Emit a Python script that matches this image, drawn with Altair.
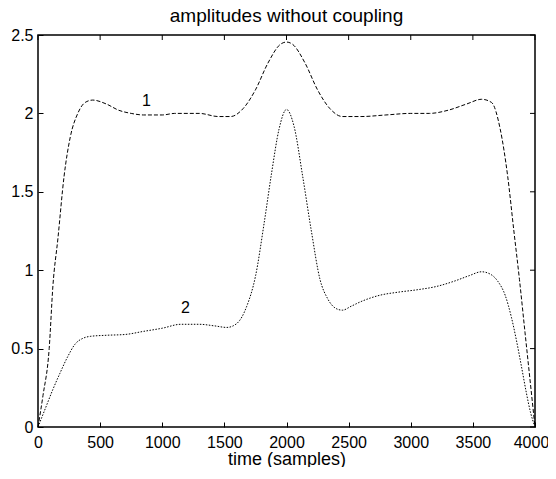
import altair as alt
import pandas as pd

# curve 1 (dashed)
t1 = [0, 40, 90, 120, 160, 210, 260, 320, 380, 440, 550, 650, 750, 850, 1000, 1100, 1300,
      1450, 1550, 1650, 1750, 1850, 1950, 2000, 2050, 2150, 2250, 2350, 2450, 2600, 2800,
      3000, 3150, 3300, 3450, 3570, 3650, 3720, 3780, 3830, 3875, 3920, 3960, 4000]
a1 = [0, 0.2, 0.5, 0.9, 1.2, 1.6, 1.85, 2.0, 2.07, 2.085, 2.06, 2.02, 2.0, 1.99, 1.99, 2.0, 2.0,
      1.98, 1.98, 2.03, 2.15, 2.32, 2.44, 2.455, 2.44, 2.32, 2.15, 2.03, 1.98, 1.98, 1.99,
      2.0, 2.0, 2.02, 2.06, 2.09, 2.07, 1.9, 1.6, 1.25, 0.94, 0.6, 0.3, 0]

# curve 2 (dotted)
t2 = [0, 60, 120, 175, 240, 300, 360, 420, 550, 700, 850, 1000, 1150, 1300, 1420, 1520, 1600,
      1680, 1750, 1820, 1880, 1940, 2000, 2060, 2130, 2200, 2270, 2330, 2400, 2450, 2520, 2600,
      2750, 2900, 3050, 3200, 3350, 3470, 3570, 3640, 3700, 3760, 3810, 3850, 3890, 3930, 3965, 4000]
a2 = [0, 0.12, 0.24, 0.34, 0.45, 0.53, 0.565, 0.578, 0.585, 0.59, 0.61, 0.63, 0.655, 0.655, 0.645, 0.635, 0.66,
      0.77, 0.96, 1.3, 1.62, 1.9, 2.025, 1.92, 1.6, 1.25, 0.94, 0.82, 0.755, 0.745, 0.77, 0.80,
      0.84, 0.86, 0.875, 0.895, 0.93, 0.965, 0.99, 0.975, 0.93, 0.84, 0.70, 0.555, 0.39, 0.22, 0.09, 0]

label_t = [873, 1187]
label_a = [2.08, 0.76]
label_text = ["1", "2"]

xticks = [0, 500, 1000, 1500, 2000, 2500, 3000, 3500, 4000]
yticks = [0, 0.5, 1, 1.5, 2, 2.5]

W, H = 497, 392
FONT = "Liberation Sans"

xscale = alt.Scale(domain=[0, 4000], nice=False, zero=False)
yscale = alt.Scale(domain=[0, 2.5], nice=False, zero=False)

xaxis = alt.Axis(values=xticks, offset=-5, tickSize=5, domain=False, grid=False,
                 title="time (samples)", labelFont=FONT, labelFontSize=16, titleFont=FONT,
                 titleFontSize=18, titleFontWeight="normal", labelColor="black", titleColor="black",
                 tickColor="black", labelPadding=7, titleBaseline="alphabetic", titleY=42,
                 format="d", labelFlush=False,
                 labelOffset={"condition": {"test": "datum.value == 4000", "value": -4}, "value": 0})
yaxis = alt.Axis(values=yticks, offset=-5, tickSize=5, domain=False, grid=False, title="",
                 labelFont=FONT, labelFontSize=16, labelColor="black", tickColor="black",
                 labelPadding=5, labelFlush=False, format="~g")

d1 = pd.DataFrame({"t": t1, "a": a1})
d2 = pd.DataFrame({"t": t2, "a": a2})
dl = pd.DataFrame({"t": label_t, "a": label_a, "s": label_text})
dx = pd.DataFrame({"t": xticks})
dy = pd.DataFrame({"a": yticks})

line1 = alt.Chart(d1).mark_line(color="black", strokeWidth=1, strokeDash=[4, 2],
                                interpolate="monotone").encode(
    x=alt.X("t:Q", scale=xscale, axis=xaxis),
    y=alt.Y("a:Q", scale=yscale, axis=yaxis),
)
line2 = alt.Chart(d2).mark_line(color="black", strokeWidth=1, strokeDash=[1.5, 1.5],
                                interpolate="monotone").encode(
    x=alt.X("t:Q", scale=xscale),
    y=alt.Y("a:Q", scale=yscale),
)
labels = alt.Chart(dl).mark_text(font=FONT, fontSize=16, color="black").encode(
    x=alt.X("t:Q", scale=xscale),
    y=alt.Y("a:Q", scale=yscale),
    text="s:N",
)
top_ticks = alt.Chart(dx).mark_rule(color="black", strokeWidth=1).encode(
    x=alt.X("t:Q", scale=xscale),
    y=alt.value(0), y2=alt.value(5),
)
right_ticks = alt.Chart(dy).mark_rule(color="black", strokeWidth=1).encode(
    y=alt.Y("a:Q", scale=yscale),
    x=alt.value(W - 5), x2=alt.value(W),
)

chart = alt.layer(line1, line2, labels, top_ticks, right_ticks).properties(
    width=W, height=H,
    title=alt.Title("amplitudes without coupling", font=FONT, fontSize=19, fontWeight="normal",
                    color="black", anchor="middle", offset=1, frame="group"),
    autosize=alt.AutoSizeParams(type="none"),
    padding={"left": 30, "top": 27, "right": 13, "bottom": 40},
).configure_view(stroke="black", strokeWidth=1.5)

chart.save("out.html", embed_options={"renderer": "svg", "actions": False})
